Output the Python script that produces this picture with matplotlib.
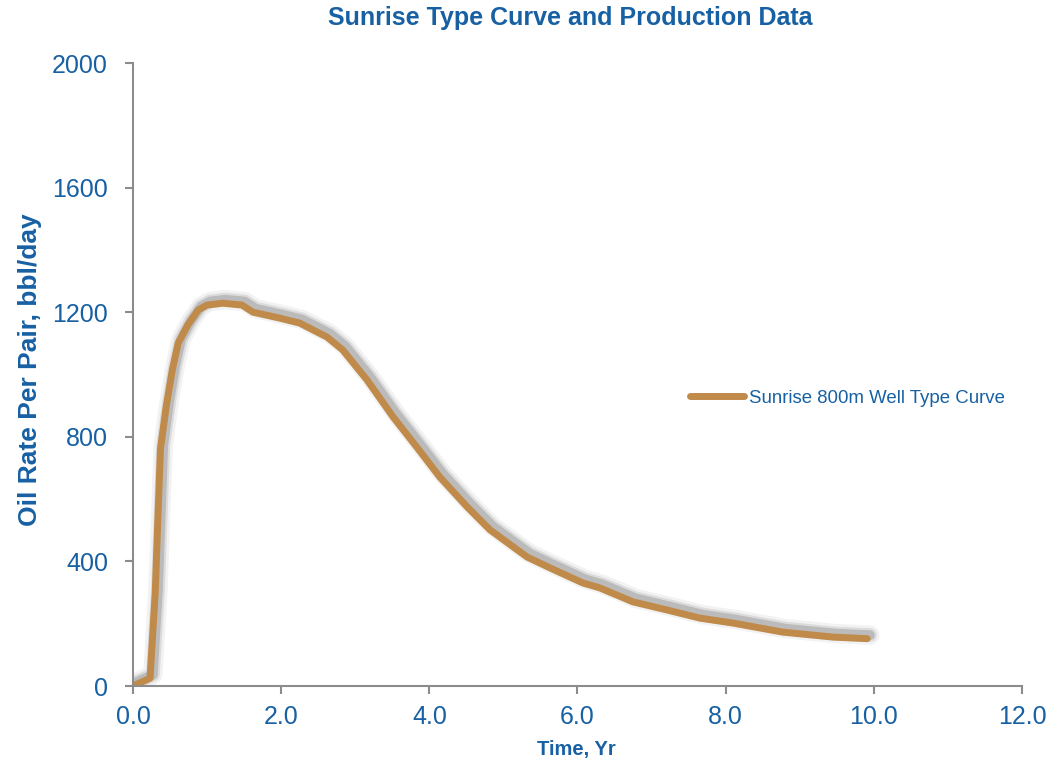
import matplotlib
matplotlib.use("Agg")
from matplotlib import pyplot as plt
from matplotlib import patheffects as pe
from matplotlib.lines import Line2D

# type curve (time in years, oil rate bbl/day)
time_yr = [0.0, 0.23, 0.30, 0.37, 0.45, 0.53, 0.61, 0.74, 0.88, 1.00, 1.21,
           1.47, 1.62, 1.98, 2.25, 2.62, 2.83, 3.16, 3.51, 3.83, 4.14, 4.51,
           4.82, 5.32, 5.63, 6.07, 6.30, 6.75, 7.21, 7.65, 8.10, 8.77, 9.45, 9.91]
oil_rate = [0, 25, 300, 760, 900, 1014, 1101, 1159, 1207, 1223, 1229,
            1223, 1200, 1181, 1165, 1120, 1079, 982, 864, 767, 671, 575,
            501, 414, 379, 331, 315, 270, 244, 218, 202, 173, 157, 152]

series_name = "Sunrise 800m Well Type Curve"
x_ticks = [0, 2, 4, 6, 8, 10, 12]
y_ticks = [0, 400, 800, 1200, 1600, 2000]

blue = "#1760a3"
line_col = "#bf8a4a"
grey = "#8c8c8c"

plt.rcParams["font.family"] = ["Liberation Sans", "DejaVu Sans"]

fig = plt.figure(figsize=(10.62, 7.62), dpi=100)
ax = fig.add_axes([133 / 1062, 76 / 762, 889 / 1062, 623 / 762])

# soft grey shadow sitting up and to the right of the curve
shadow = [
    pe.SimpleLineShadow(offset=(2, 2.5), shadow_color="k", alpha=0.05, linewidth=14),
    pe.SimpleLineShadow(offset=(2, 2.5), shadow_color="k", alpha=0.09, linewidth=10),
    pe.SimpleLineShadow(offset=(2, 2.5), shadow_color="k", alpha=0.15, linewidth=7),
    pe.Normal(),
]
ax.plot(time_yr, oil_rate, color=line_col, lw=5, solid_capstyle="round",
        solid_joinstyle="round", path_effects=shadow)

ax.set_xlim(0, 12)
ax.set_ylim(0, 2000)
ax.set_xticks(x_ticks)
ax.set_xticklabels([f"{t:.1f}" for t in x_ticks])
ax.set_yticks(y_ticks)

for s in ["top", "right"]:
    ax.spines[s].set_visible(False)
for s in ["left", "bottom"]:
    ax.spines[s].set_color(grey)
    ax.spines[s].set_linewidth(1.5)
ax.tick_params(direction="out", length=6, width=1.5, color=grey,
               labelcolor=blue, labelsize=18)
ax.tick_params(axis="y", pad=12)
ax.tick_params(axis="x", pad=8)

fig.text(570 / 1062, 1 - 18 / 762, "Sunrise Type Curve and Production Data",
         ha="center", va="center", fontsize=18, fontweight="bold", color=blue)
fig.text(30 / 1062, 1 - 370 / 762, "Oil Rate Per Pair, bbl/day", rotation=90,
         ha="center", va="center", fontsize=19, fontweight="bold", color=blue)
fig.text(576 / 1062, 1 - 750 / 762, "Time, Yr",
         ha="center", va="center", fontsize=14.5, fontweight="bold", color=blue)

handle = Line2D([], [], color=line_col, lw=5, solid_capstyle="round")
leg = ax.legend([handle], [series_name], loc="center left",
                bbox_to_anchor=(690 / 1062, 1 - 398 / 762),
                bbox_transform=fig.transFigure, frameon=False, fontsize=13.4,
                borderpad=0, borderaxespad=0, handlelength=2.9, handletextpad=0.25)
for t in leg.get_texts():
    t.set_color(blue)

fig.savefig("out.png", dpi=100)
